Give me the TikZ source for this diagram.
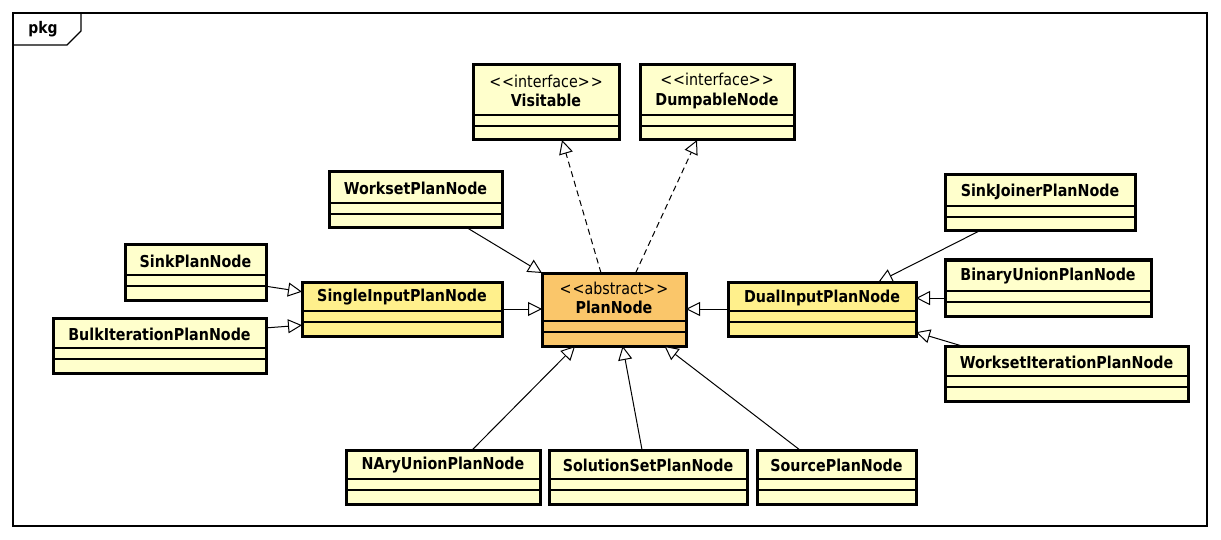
\documentclass[tikz,border=0pt]{standalone}
\usepackage{fontspec}
\setmainfont{DejaVu Sans}[FakeStretch=0.87]
\usetikzlibrary{arrows.meta,calc}
\definecolor{lightcls}{RGB}{255,255,204}
\definecolor{midcls}{RGB}{255,240,140}
\definecolor{abscls}{RGB}{250,198,106}
\tikzset{
 cls/.style={draw=black, line width=3pt, anchor=north west, inner sep=0pt, outer sep=0pt},
 sepline/.style={line width=1.4pt},
 clsname/.style={font=\fontsize{16.4}{19.5}\selectfont\bfseries, inner sep=0pt, align=center},
 gen/.style={line width=1pt, -{Triangle[open, length=14pt, width=14pt, fill=white]}},
 realize/.style={gen, dash pattern=on 6pt off 4pt},
 frameline/.style={line width=1.2pt},
}
\newcommand\umlclass[7]{%
 \node[cls, fill=#6, minimum width={(#4-#2)*1pt}, minimum height={(#5-#3)*1pt}] (#1) at (#2,#3) {};
 \draw[sepline] ({#2},{#5-25}) -- ({#4},{#5-25});
 \draw[sepline] ({#2},{#5-14}) -- ({#4},{#5-14});
 \node[clsname] (#1-name) at ({(#2+#4)/2},{(#3+#5-25)/2+1}) {#7};
}
\newcommand\stereo[1]{{\mdseries{<}\kern1pt{<}#1{>}\kern1pt{>}}}
\begin{document}
\begin{tikzpicture}[x=1pt,y=-1pt]
\useasboundingbox[fill=white] (0,0) rectangle (1221,540);
% frame
\draw[frameline] (13,13) rectangle (1207,526);
\draw[frameline] (13,45) -- (67,45) -- (81,31) -- (81,13);
\node[font=\fontsize{16}{18}\selectfont\bfseries, inner sep=0pt] (pkg) at (43,29) {pkg};
% classes
\umlclass{vis}{473}{65}{619}{140}{lightcls}{\stereo{interface}\\Visitable}
\umlclass{dump}{640}{65}{794}{140}{lightcls}{\stereo{interface}\\DumpableNode}
\umlclass{work}{329}{172}{502}{228}{lightcls}{WorksetPlanNode}
\umlclass{sink}{125}{245}{266}{300}{lightcls}{SinkPlanNode}
\umlclass{bulk}{53}{318}{266}{373}{lightcls}{BulkIterationPlanNode}
\umlclass{single}{302}{282}{502}{336}{midcls}{SingleInputPlanNode}
\umlclass{plan}{542}{273}{686}{346}{abscls}{\stereo{abstract}\\PlanNode}
\umlclass{dual}{728}{282}{916}{336}{midcls}{DualInputPlanNode}
\umlclass{sinkj}{945}{175}{1135}{231}{lightcls}{SinkJoinerPlanNode}
\umlclass{binary}{945}{260}{1151}{316}{lightcls}{BinaryUnionPlanNode}
\umlclass{wsi}{945}{346}{1188}{401}{lightcls}{WorksetIterationPlanNode}
\umlclass{nary}{346}{450}{540}{504}{lightcls}{NAryUnionPlanNode}
\umlclass{sol}{549}{450}{747}{504}{lightcls}{SolutionSetPlanNode}
\umlclass{src}{757}{450}{916}{504}{lightcls}{SourcePlanNode}
% generalizations
\draw[gen] ($(work.south west)!0.80!(work.south east)$) -- (plan.north west);
\draw[gen] ($(sink.south east)!0.25!(sink.north east)$) -- ($(single.north west)!0.18!(single.south west)$);
\draw[gen] ($(bulk.north east)!0.18!(bulk.south east)$) -- ($(single.north west)!0.80!(single.south west)$);
\draw[gen] (single.east) -- (single.east -| plan.west);
\draw[gen] (dual.west) -- (dual.west -| plan.east);
\draw[gen] ($(sinkj.south west)!0.18!(sinkj.south east)$) -- ($(dual.north west)!0.80!(dual.north east)$);
\coordinate (binA) at ($(binary.north west)!0.68!(binary.south west)$);
\draw[gen] (binA) -- (binA -| dual.east);
\draw[gen] ($(wsi.north west)!0.07!(wsi.north east)$) -- ($(dual.north east)!0.93!(dual.south east)$);
\draw[gen] ($(nary.north west)!0.65!(nary.north east)$) -- ($(plan.south west)!0.23!(plan.south east)$);
\draw[gen] ($(sol.north west)!0.47!(sol.north east)$) -- ($(plan.south west)!0.56!(plan.south east)$);
\draw[gen] ($(src.north west)!0.27!(src.north east)$) -- ($(plan.south west)!0.85!(plan.south east)$);
% realizations
\draw[realize] ($(plan.north west)!0.41!(plan.north east)$) -- ($(vis.south west)!0.61!(vis.south east)$);
\draw[realize] ($(plan.north west)!0.65!(plan.north east)$) -- ($(dump.south west)!0.37!(dump.south east)$);
\end{tikzpicture}
\end{document}
